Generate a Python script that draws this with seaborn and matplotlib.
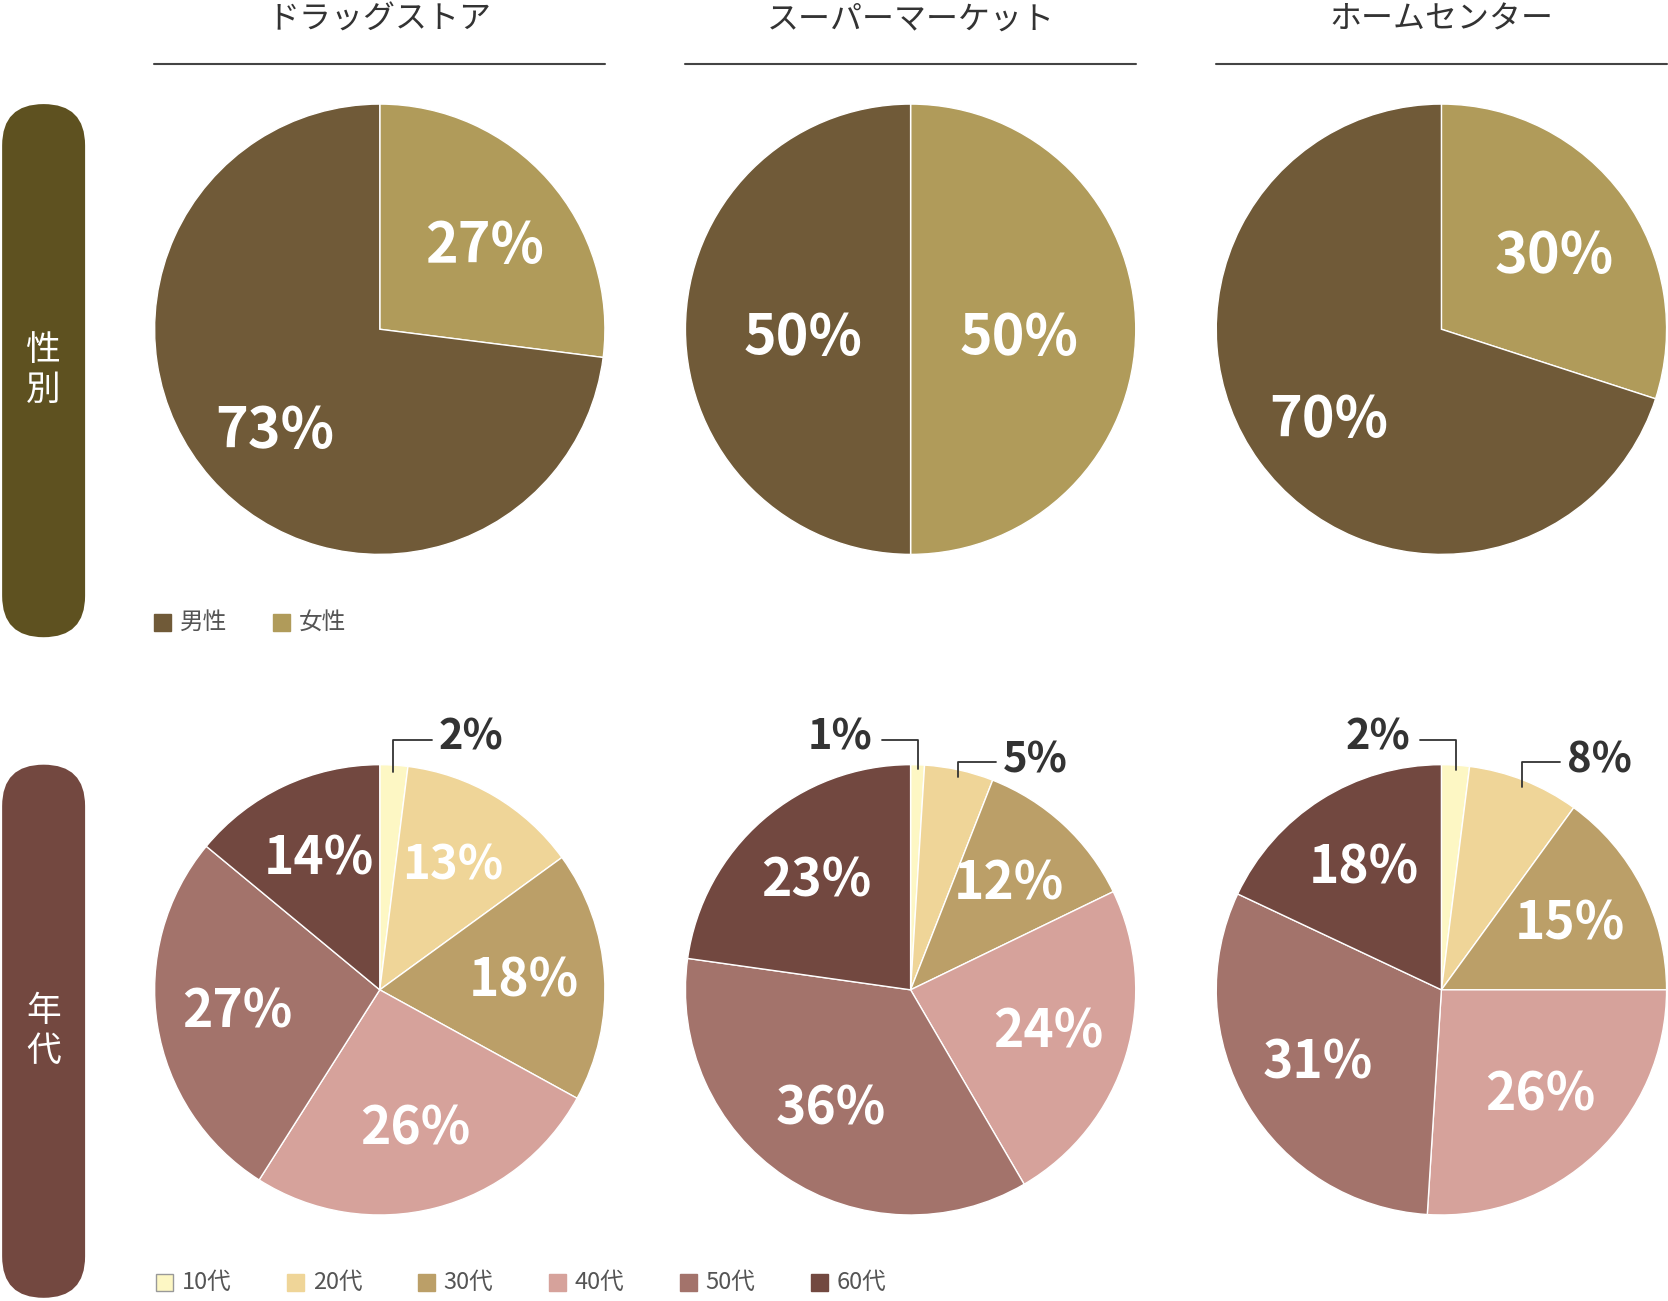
import matplotlib
matplotlib.use("Agg")
import matplotlib.pyplot as plt
import seaborn as sns
import numpy as np
from matplotlib.patches import FancyBboxPatch, Rectangle

sns.set_theme(style="white")
plt.rcParams['font.family'] = ['Noto Sans CJK JP', 'DejaVu Sans']

stores = ["ドラッグストア", "スーパーマーケット", "ホームセンター"]
gender_labels = ["男性", "女性"]
female = [27, 50, 30]
age_labels = ["10代", "20代", "30代", "40代", "50代", "60代"]
ages = [[2, 13, 18, 26, 27, 14],
        [1, 5, 12, 24, 36, 23],
        [2, 8, 15, 26, 31, 18]]
gender_colors = ["#705a38", "#b09b5a"]
age_colors = ["#fdf7c4", "#efd598", "#bb9f68", "#d6a29b", "#a3736b", "#724840"]

W, H = 1568, 1225
fig = plt.figure(figsize=(16.68, 13.01), dpi=100)

def fx(x): return x / W
def fy(y): return 1 - y / H

cx = [357, 856, 1355]
R = 212

def pie_ax(x, y):
    ax = fig.add_axes([fx(x - R), fy(y + R), 2 * R / W, 2 * R / H])
    ax.set_xlim(-1, 1); ax.set_ylim(-1, 1); ax.axis("off")
    return ax

bold = dict(fontweight="bold", fontsize=40)

for i, s in enumerate(stores):
    fig.text(fx(cx[i]), fy(18), s, ha="center", va="center", fontsize=23, color="#333")
    fig.add_artist(plt.Line2D([fx(cx[i] - 212), fx(cx[i] + 212)], [fy(60), fy(60)], color="#444", lw=1.5))
    # gender
    ax = pie_ax(cx[i], 310)
    vals = [female[i], 100 - female[i]]
    ax.pie(vals, colors=[gender_colors[1], gender_colors[0]], startangle=90, counterclock=False, radius=1)
    ax.set_xlim(-1, 1); ax.set_ylim(-1, 1)
    start = 90
    for v in vals:
        mid = np.deg2rad(start - v * 3.6 / 2)
        r = 0.62 if v != 50 else 0.48
        ax.text(r * np.cos(mid), r * np.sin(mid) - 0.04, f"{v}%", ha="center", va="center", color="white", **bold)
        start -= v * 3.6
    # age
    ax = pie_ax(cx[i], 932)
    a = ages[i]
    ax.pie(a, colors=age_colors, startangle=90, counterclock=False, radius=1, normalize=True)
    ax.set_xlim(-1, 1); ax.set_ylim(-1, 1)
    tot = sum(a)
    start = 90
    small_idx = 0
    for k, v in enumerate(a):
        span = v / tot * 360
        mid = np.deg2rad(start - span / 2)
        if v <= 8:
            px, py = np.cos(mid), np.sin(mid)
            if small_idx == 0 and i > 0:
                # label to the left
                ax.plot([px, px, px - 0.16], [py - 0.02, 1.11, 1.11], color="#333", lw=1.3, clip_on=False)
                ax.text(px - 0.2, 1.12, f"{v}%", ha="right", va="center", color="#333", fontweight="bold", fontsize=30)
            else:
                top = 1.11 if (i == 0) else 1.01
                ax.plot([px * 0.97, px * 0.97, px * 0.97 + 0.17], [py * 0.97, top, top], color="#333", lw=1.3, clip_on=False)
                ax.text(px * 0.97 + 0.2, top + 0.01, f"{v}%", ha="left", va="center", color="#333", fontweight="bold", fontsize=30)
            small_idx += 1
        else:
            r = 0.64
            col = "white"
            ax.text(r * np.cos(mid), r * np.sin(mid), f"{v}%", ha="center", va="center", color=col,
                    fontweight="bold", fontsize=34 if v < 15 and k == 1 else 37)
        start -= span

# pills
for (y0, y1, col, txt) in [(98, 600, "#5e5120", "性\n別"), (720, 1222, "#734840", "年\n代")]:
    p = FancyBboxPatch((fx(2), fy(y1)), fx(78), (y1 - y0) / H,
                       boxstyle=f"round,pad=0,rounding_size={39/W}", transform=fig.transFigure,
                       facecolor=col, edgecolor="none", mutation_aspect=W / H)
    fig.add_artist(p)
    fig.text(fx(41), fy((y0 + y1) / 2), txt, ha="center", va="center", color="white", fontsize=25, linespacing=1.2)

# legends
def legend(items, colors, xs, y):
    for t, c, x in zip(items, colors, xs):
        fig.add_artist(Rectangle((fx(x - 8), fy(y + 8)), 16 / W, 16 / H, transform=fig.transFigure,
                                 facecolor=c, edgecolor="#999" if c == "#fdf7c4" else c, lw=1))
        fig.text(fx(x + 16), fy(y), t, ha="left", va="center", fontsize=17, color="#555")

legend(gender_labels, gender_colors, [153, 265], 586)
legend(age_labels, age_colors, [155, 278, 401, 524, 647, 770], 1208)

fig.savefig("out.png", dpi=100, facecolor="white")
